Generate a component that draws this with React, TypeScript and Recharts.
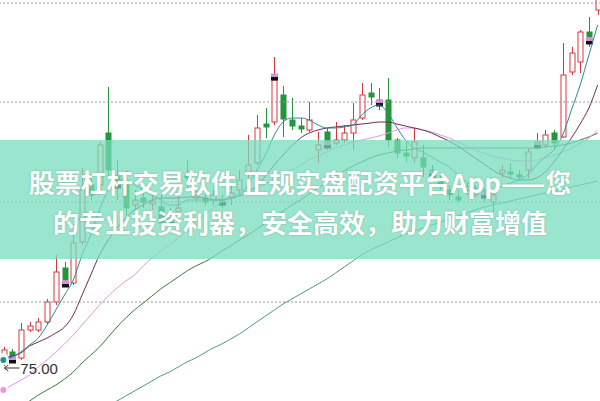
import React from 'react';
import { ComposedChart, Bar, Line, XAxis, YAxis, ReferenceLine, ReferenceDot } from 'recharts';

// daily candles (price units, lowest low = 75.00)
const open = [75.3, 76.4, 75.8, 78.6, 78.6, 79.4, 81.4, 84.8, 83.3, 87.4, 93.1, 93.1, 98.3, 94.0, 93.1, 91.1, 91.8, 91.2, 90.9, 89.8, 90.4, 94.0, 91.8, 91.8, 91.6, 91.6, 91.8, 92.6, 94.3, 95.3, 99.2, 99.4, 102.1, 99.6, 99.0, 98.6, 96.6, 98.4, 97.3, 97.6, 98.3, 99.8, 102.3, 101.6, 101.6, 97.6, 96.3, 95.8, 95.8, 94.6, 93.6, 92.6, 91.9, 92.6, 92.1, 92.4, 91.4, 94.3, 94.4, 94.1, 94.6, 97.4, 97.1, 98.3, 97.9, 104.4, 105.4, 108.4, 110.6];
const close = [76.6, 75.9, 78.6, 79.0, 79.4, 81.4, 84.4, 83.6, 87.3, 92.6, 92.1, 97.1, 94.6, 93.6, 90.8, 91.6, 91.4, 91.5, 89.3, 90.1, 90.8, 93.8, 92.1, 91.4, 92.1, 91.1, 92.3, 93.6, 95.1, 98.8, 98.9, 103.6, 99.7, 99.0, 98.7, 99.6, 97.1, 97.4, 97.6, 98.3, 99.6, 102.1, 101.9, 101.2, 97.6, 96.3, 96.0, 97.4, 94.9, 93.9, 93.1, 92.1, 91.6, 92.9, 92.6, 91.8, 92.1, 94.6, 94.2, 93.9, 96.4, 96.9, 98.1, 97.3, 104.1, 106.3, 108.4, 107.9, 112.6];
const high = [76.9, 76.7, 79.3, 79.4, 79.8, 81.7, 86.1, 85.4, 88.3, 94.8, 94.1, 97.4, 102.9, 95.6, 94.6, 92.6, 92.4, 92.1, 92.1, 90.8, 92.3, 95.6, 92.8, 92.4, 92.6, 92.1, 93.1, 94.6, 98.1, 100.1, 100.8, 105.9, 103.0, 101.8, 99.8, 101.4, 98.4, 98.8, 99.4, 99.1, 101.3, 103.3, 103.3, 102.8, 103.8, 97.8, 97.4, 98.8, 97.1, 95.1, 94.1, 93.1, 92.6, 93.3, 93.1, 92.8, 92.4, 95.1, 95.3, 94.6, 96.8, 98.3, 98.6, 98.6, 107.3, 106.9, 108.6, 109.9, 113.1];
const low = [75.0, 75.6, 75.6, 78.4, 78.4, 79.2, 81.1, 83.2, 83.1, 87.1, 91.6, 92.6, 93.8, 91.6, 90.1, 90.4, 90.8, 90.6, 88.8, 89.4, 90.1, 92.6, 91.3, 91.0, 91.1, 90.8, 91.1, 92.1, 93.8, 95.1, 97.8, 99.1, 97.9, 98.6, 98.3, 98.4, 95.3, 96.6, 97.1, 97.3, 96.6, 99.6, 101.1, 100.6, 96.9, 95.8, 95.4, 95.3, 93.9, 93.4, 92.6, 91.6, 91.4, 92.1, 91.8, 91.3, 90.4, 93.8, 93.8, 93.6, 93.8, 96.6, 96.8, 96.6, 97.8, 104.1, 104.3, 106.9, 110.1];

// small signal flags every sixth session
const marks: (number | null)[] = [null, 75.6, null, null, null, null, null, 83.2, null, null, null, null, null, 93.1, null, null, null, null, null, 89.4, null, null, null, null, null, 91.4, null, null, null, null, null, 103.9, null, null, null, null, null, 97.1, null, null, null, null, null, 101.3, null, null, null, null, null, 94.2, null, null, null, null, null, 92.1, null, null, null, null, null, 97.1, null, null, null, null, null, 107.5, null];

// moving averages
const ma5 = [75.6, 75.9, 76.4, 77.1, 77.8, 79.1, 80.6, 82.1, 83.6, 86.1, 88.1, 90.6, 92.6, 93.6, 93.6, 93.1, 92.6, 92.1, 91.6, 91.1, 91.1, 91.6, 91.6, 91.6, 91.6, 91.6, 91.8, 92.1, 93.1, 94.6, 96.1, 98.1, 99.4, 99.8, 99.8, 99.6, 99.1, 98.8, 98.8, 98.9, 99.1, 100.1, 100.8, 101.1, 100.3, 98.9, 97.6, 96.8, 96.4, 95.9, 95.4, 94.9, 94.1, 93.4, 92.8, 92.6, 92.6, 92.9, 93.3, 93.6, 94.1, 95.1, 95.9, 96.6, 98.1, 100.6, 103.1, 106.1, 109.1];
const ma10 = [75.8, 76.0, 76.3, 77.0, 77.4, 77.8, 78.3, 78.9, 80.1, 82.1, 84.1, 86.1, 87.6, 88.8, 89.8, 90.6, 91.1, 91.6, 91.8, 91.8, 91.8, 91.9, 91.9, 91.8, 91.6, 91.6, 91.8, 92.0, 92.4, 93.0, 94.0, 95.1, 96.1, 97.0, 97.8, 98.3, 98.6, 98.8, 98.9, 99.0, 99.1, 99.2, 99.3, 99.4, 99.4, 99.2, 99.0, 98.8, 98.6, 98.3, 97.9, 97.5, 97.0, 96.4, 95.8, 95.2, 94.6, 94.1, 93.8, 93.6, 93.6, 93.8, 94.4, 95.4, 96.6, 97.8, 99.2, 100.8, 103.1];
const ma20 = [72.6, 73.1, 73.6, 74.1, 74.9, 75.6, 76.4, 77.2, 78.1, 79.1, 80.1, 81.1, 82.0, 82.8, 83.5, 84.1, 85.0, 85.8, 86.5, 87.1, 87.8, 88.6, 89.4, 90.1, 90.8, 91.4, 91.9, 92.3, 92.6, 92.9, 93.2, 93.6, 94.1, 94.6, 95.1, 95.6, 96.0, 96.4, 96.8, 97.1, 97.4, 97.6, 97.8, 98.0, 98.3, 98.6, 98.8, 98.8, 98.6, 98.4, 98.1, 97.8, 97.4, 97.0, 96.6, 96.3, 96.0, 95.8, 95.6, 95.5, 95.5, 95.6, 95.8, 96.1, 96.4, 96.8, 97.3, 97.8, 98.6];
const ma30 = [70.1, 70.6, 71.1, 71.5, 72.1, 72.6, 73.1, 73.7, 74.4, 75.3, 76.1, 76.9, 77.9, 78.9, 79.8, 80.6, 81.3, 82.0, 82.7, 83.3, 83.9, 84.5, 85.0, 85.4, 85.9, 86.5, 87.0, 87.6, 88.1, 88.7, 89.3, 89.9, 90.5, 91.1, 91.6, 92.2, 92.8, 93.4, 94.0, 94.5, 95.0, 95.4, 95.8, 96.1, 96.3, 96.5, 96.6, 96.7, 96.8, 96.8, 96.8, 96.8, 96.8, 96.8, 96.8, 96.8, 96.8, 96.8, 96.8, 96.8, 96.8, 96.8, 96.9, 97.0, 97.1, 97.3, 97.6, 97.9, 98.3];
const ma60 = [65.0, 65.5, 66.0, 66.5, 67.0, 67.5, 68.0, 68.5, 69.0, 69.6, 70.1, 70.6, 71.1, 71.5, 72.0, 72.5, 73.0, 73.5, 74.0, 74.4, 74.9, 75.4, 75.8, 76.3, 76.8, 77.2, 77.7, 78.2, 78.8, 79.4, 80.0, 80.6, 81.2, 81.7, 82.2, 82.7, 83.2, 83.7, 84.3, 84.9, 85.5, 86.1, 86.6, 87.0, 87.4, 87.8, 88.2, 88.5, 88.8, 89.1, 89.4, 89.7, 90.0, 90.3, 90.6, 90.9, 91.1, 91.3, 91.5, 91.7, 91.9, 92.1, 92.3, 92.5, 92.7, 92.9, 93.1, 93.3, 93.5];

const gridLevels = [111.3, 101.4, 91.4, 81.4];
const lowLabel = '75.00';

const RED = '#d9363e';
const GREEN = '#22963a';

const data = open.map((o, i) => ({
  d: i + 1,
  range: [low[i], high[i]],
  open: o,
  close: close[i],
  high: high[i],
  low: low[i],
  mark: marks[i],
  ma5: ma5[i],
  ma10: ma10[i],
  ma20: ma20[i],
  ma30: ma30[i],
  ma60: ma60[i],
}));

const Candle = (props: any) => {
  const { x, y, width, height, payload } = props;
  const top = Math.min(y, y + height);
  const h = Math.abs(height);
  const { open, close, high, low, mark } = payload;
  const py = (v: number) => (high === low ? top : top + ((high - v) / (high - low)) * h);
  const cx = Math.round(x + width / 2);
  const up = close >= open;
  const color = up ? RED : GREEN;
  const bt = py(Math.max(open, close));
  const bb = py(Math.min(open, close));
  return (
    <g>
      <line x1={cx + 0.5} x2={cx + 0.5} y1={top} y2={top + h} stroke={color} strokeWidth={1} />
      <rect x={cx - 2} y={bt} width={5} height={Math.max(bb - bt, 1)} fill={up ? '#fff' : color} stroke={color} strokeWidth={1} />
      {mark != null && (
        <g>
          <rect x={cx - 3} y={py(mark) - 3.5} width={7} height={3.5} fill="#dc8ede" />
          <rect x={cx - 3} y={py(mark)} width={7} height={3.5} fill="#111" />
        </g>
      )}
    </g>
  );
};

const LowTag = (p: any) => {
  const x = p.cx;
  const y = p.cy + 2;
  return (
    <g>
      <line x1={x + 1} x2={x + 16} y1={y} y2={y} stroke="#333" strokeWidth={1} />
      <path d={`M${x + 1},${y} l4,-3 M${x + 1},${y} l4,3`} stroke="#333" strokeWidth={1} fill="none" />
      <text x={x + 17} y={y} dominantBaseline="central" fontSize={15} fill="#333" fontFamily="'Liberation Sans', Arial, sans-serif">
        {lowLabel}
      </text>
    </g>
  );
};

export default function App() {
  return (
    <div style={{ position: 'fixed', left: 0, top: 0, width: 600, height: 401, overflow: 'hidden', background: '#fff' }}>
      <div style={{ position: 'absolute', left: -1.37, top: 0 }}>
        <ComposedChart width={603} height={401} data={data} margin={{ top: 0, right: 0, bottom: 0, left: 0 }}>
          <XAxis dataKey="d" hide />
          <YAxis hide domain={[71.5, 111.6]} allowDataOverflow />
          {gridLevels.map((v) => (
            <ReferenceLine key={v} y={v} stroke="#9a9a9a" strokeDasharray="2 2" />
          ))}
          <Line dataKey="ma60" type="monotone" stroke="#50968c" dot={false} strokeWidth={1} isAnimationActive={false} />
          <Line dataKey="ma30" type="monotone" stroke="#3c783c" dot={false} strokeWidth={1} isAnimationActive={false} />
          <Line dataKey="ma20" type="monotone" stroke="#e596e6" dot={false} strokeWidth={1} isAnimationActive={false} />
          <Line dataKey="ma10" type="monotone" stroke="#6e2a5a" dot={false} strokeWidth={1} isAnimationActive={false} />
          <Line dataKey="ma5" type="monotone" stroke="#2a8c96" dot={false} strokeWidth={1} isAnimationActive={false} />
          <Bar dataKey="range" barSize={7} shape={Candle} isAnimationActive={false} />
          <ReferenceDot x={1} y={75} r={0} shape={LowTag} />
        </ComposedChart>
      </div>
      <div
        style={{
          position: 'absolute',
          left: 0,
          top: 140,
          width: 600,
          height: 119,
          background: 'rgba(120,220,188,0.75)',
        }}
      />
      <div
        style={{
          position: 'absolute',
          left: 0,
          top: 162,
          width: 600,
          textAlign: 'center',
          color: '#fff',
          fontFamily: "'Noto Sans CJK SC', sans-serif",
          fontWeight: 700,
          fontSize: 26,
          lineHeight: '40px',
          whiteSpace: 'nowrap',
          textShadow: '0 0 2px rgba(0,0,0,0.25)',
        }}
      >
        <div>股票杠杆交易软件 正规实盘配资平台App——您</div>
        <div>的专业投资利器，安全高效，助力财富增值</div>
      </div>
    </div>
  );
}
